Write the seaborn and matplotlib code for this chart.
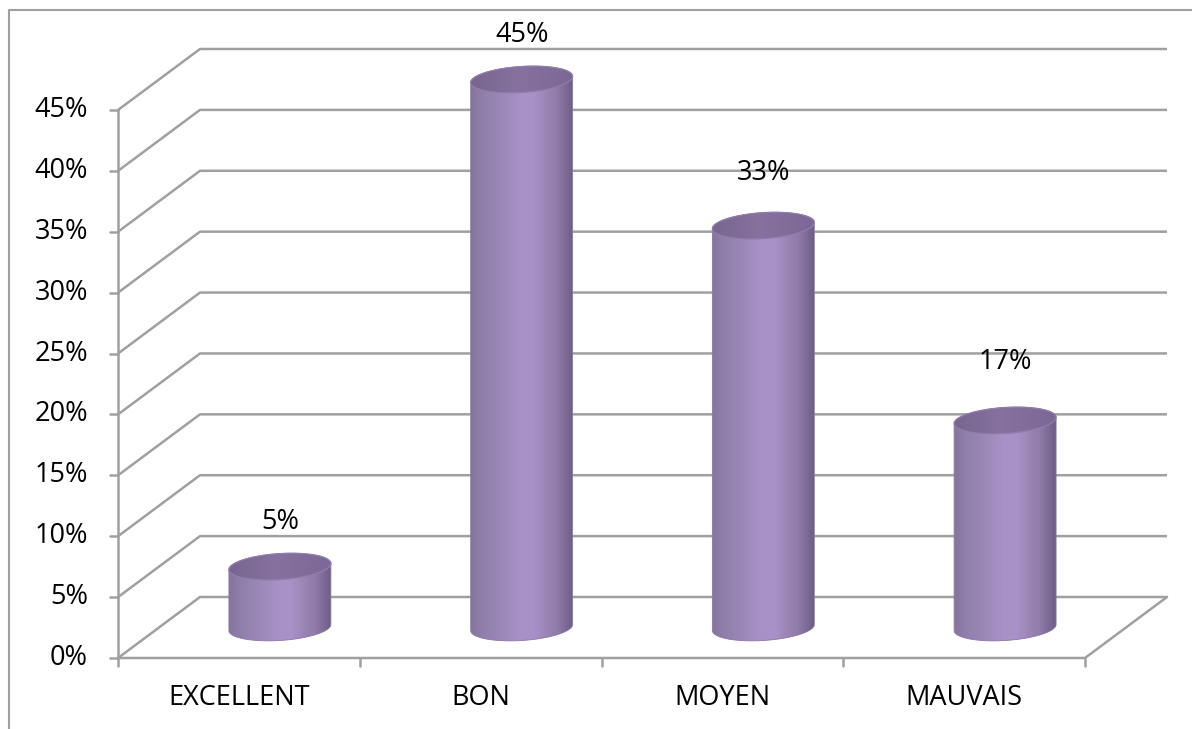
import numpy as np
import pandas as pd
import matplotlib
matplotlib.use("Agg")
import matplotlib.pyplot as plt
import seaborn as sns
from matplotlib.path import Path
from matplotlib.patches import PathPatch
from matplotlib.colors import LinearSegmentedColormap
from matplotlib.lines import Line2D

# ---- data ----
categories = ["EXCELLENT", "BON", "MOYEN", "MAUVAIS"]
values = [5, 45, 33, 17]
value_labels = ["5%", "45%", "33%", "17%"]
y_ticks = [0, 5, 10, 15, 20, 25, 30, 35, 40, 45]
y_tick_labels = ["0%", "5%", "10%", "15%", "20%", "25%", "30%", "35%", "40%", "45%"]

# ---- style ----
sns.set_theme(style="white")
plt.rcParams["font.family"] = ["Open Sans", "DejaVu Sans"]
FS = 19.5
GRID = "#a0a0a0"
TXT = "#000000"

W, H, DPI = 1192, 729, 100
fig = plt.figure(figsize=(W / DPI, H / DPI), dpi=DPI)
ax = fig.add_axes([0, 0, 1, 1])

# front plane: category axis spans 4 slots, value axis 0..45 %
x0_px, x4_px = 118, 1085
y0_px, y45_px = 658, 110
ux = (x4_px - x0_px) / 4.0
uy = (y0_px - y45_px) / 45.0
DX = 82 / ux          # depth shift of the back wall (x)
DY = 61 / uy          # depth shift of the back wall (y)

# cylinder bodies positioned by seaborn at mid depth
df = pd.DataFrame({"pos": np.arange(len(categories)) + 0.5 + DX / 2,
                   "value": values})
sns.barplot(data=df, x="pos", y="value", native_scale=True, orient="x",
            width=102 / ux, errorbar=None, color="#a08cbf", ax=ax)
bars = list(ax.patches)

ax.set_xlim(-x0_px / ux, (W - x0_px) / ux)
ax.set_ylim((y0_px - H) / uy, y0_px / uy)
ax.axis("off")

# ---- 3D frame: walls, floor, axes ----
lw = 1.8
for t in y_ticks:
    ax.plot([0, DX, 4 + DX], [t, t + DY, t + DY], color=GRID, lw=lw,
            zorder=1, solid_capstyle="butt")
ax.plot([0, 4, 4 + DX], [0, 0, DY], color=GRID, lw=lw, zorder=1)
ax.plot([0, 0], [0, 45], color=GRID, lw=lw, zorder=1)
for t in y_ticks:
    ax.plot([-8 / ux, 0], [t, t], color=GRID, lw=lw, zorder=1)
for i in range(len(categories) + 1):
    ax.plot([i, i], [0, -8 / uy], color=GRID, lw=lw, zorder=1)

# ---- cylinders ----
body_cmap = LinearSegmentedColormap.from_list(
    "body", [(0.0, "#85759d"), (0.12, "#907fab"), (0.5, "#a992c8"),
             (0.62, "#a891c6"), (0.85, "#8f7aa9"), (1.0, "#6e5d86")])
cap_cmap = LinearSegmentedColormap.from_list(
    "cap", [(0.0, "#78658f"), (0.45, "#86719f"), (1.0, "#7c6796")])

b = 13 / uy                # half height of the elliptical ends
shear = 0.06 * ux / uy     # slight tilt of the ellipses
grad = np.linspace(0, 1, 256).reshape(1, -1)

def ellipse_pts(xc, yc, a, t0, t1, n=80):
    t = np.linspace(t0, t1, n)
    xs = xc + a * np.cos(t)
    ys = yc + b * np.sin(t) + shear * (xs - xc)
    return xs, ys

for p in bars:
    xl, w, h = p.get_x(), p.get_width(), p.get_height()
    p.set_visible(False)
    xc, a = xl + w / 2, w / 2
    base = DY / 2
    top = base + h

    bx, by = ellipse_pts(xc, base, a, np.pi, 2 * np.pi)
    tx, ty = ellipse_pts(xc, top, a, 0, np.pi)
    verts = np.column_stack([np.r_[bx, tx, bx[0]], np.r_[by, ty, by[0]]])
    codes = [Path.MOVETO] + [Path.LINETO] * (len(verts) - 2) + [Path.CLOSEPOLY]
    body = PathPatch(Path(verts, codes), facecolor="none",
                     edgecolor="#8a78a3", lw=0.6, zorder=3)
    ax.add_patch(body)
    im = ax.imshow(grad, cmap=body_cmap, aspect="auto", zorder=2.9,
                   extent=(xl, xl + w, base - 2 * b, top + 2 * b),
                   interpolation="bilinear")
    im.set_clip_path(body)

    cx, cy = ellipse_pts(xc, top, a, 0, 2 * np.pi, 160)
    cverts = np.column_stack([cx, cy])
    cap = PathPatch(Path(cverts, closed=False), facecolor="none",
                    edgecolor="#917dad", lw=0.9, zorder=4)
    ax.add_patch(cap)
    cim = ax.imshow(grad, cmap=cap_cmap, aspect="auto", zorder=3.9,
                    extent=(xl, xl + w, top - 2 * b, top + 2 * b),
                    interpolation="bilinear")
    cim.set_clip_path(cap)

# ---- text ----
label_lift = [1.19, 1.19, 1.85, 2.26]
for i, (v, lab) in enumerate(zip(values, value_labels)):
    xc = i + 0.5 + DX / 2
    ax.text(xc, v + DY + label_lift[i], lab, ha="center", va="center",
            fontsize=FS, color=TXT, zorder=5)

for i, cat in enumerate(categories):
    ax.text(i + 0.5, -40 / uy, cat, ha="center", va="center",
            fontsize=FS, color=TXT)

for t, lab in zip(y_ticks, y_tick_labels):
    ax.text(-30 / ux, t, lab, ha="right", va="center", fontsize=FS, color=TXT)

# outer chart-area border
fig.add_artist(Line2D([9 / W, 9 / W, 1.0], [0.0, 1 - 10 / H, 1 - 10 / H],
                      transform=fig.transFigure, color="#a0a0a0", lw=1.5))

fig.savefig("out.png", dpi=DPI)
